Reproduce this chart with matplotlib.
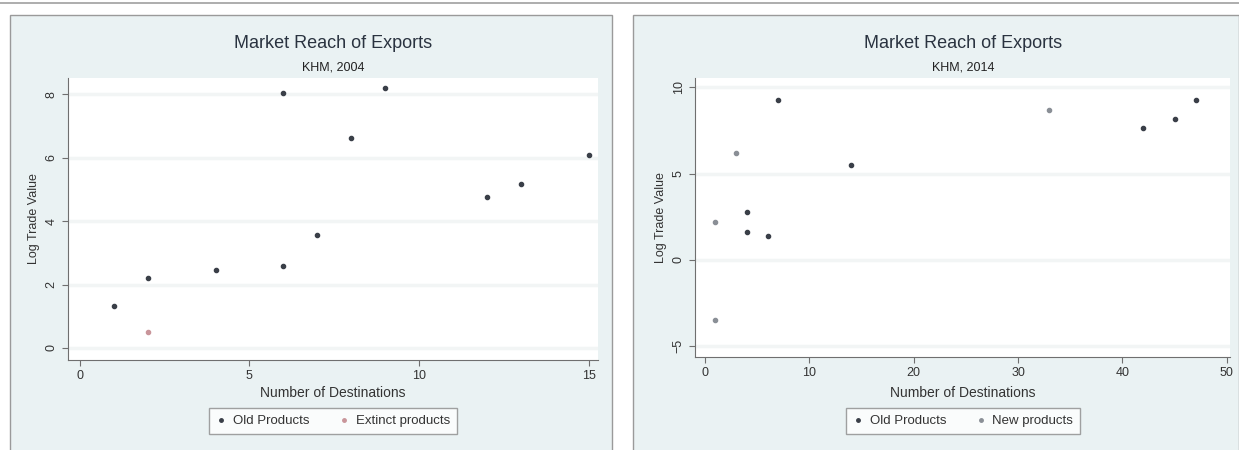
import matplotlib.pyplot as plt
from matplotlib.patches import Rectangle
from matplotlib.lines import Line2D

plt.rcParams['font.family'] = ['Liberation Sans', 'DejaVu Sans']

# 2004 panel
eski_x_2004 = [1, 2, 4, 6, 6, 7, 8, 9, 12, 13, 15]
eski_y_2004 = [1.32, 2.2, 2.46, 8.04, 2.6, 3.56, 6.62, 8.2, 4.76, 5.17, 6.09]
kayip_x_2004 = [2]
kayip_y_2004 = [0.5]

# 2014 panel
eski_x_2014 = [4, 4, 6, 7, 14, 42, 45, 47]
eski_y_2014 = [2.78, 1.62, 1.39, 9.26, 5.5, 7.64, 8.16, 9.26]
yeni_x_2014 = [1, 1, 3, 33]
yeni_y_2014 = [2.2, -3.5, 6.2, 8.7]

fig = plt.figure(figsize=(12.39, 4.5), dpi=100)
W, H = 1239.0, 450.0

def px(x0, y0, x1, y1):
    # piksel kutusunu figur koordinatina cevir
    return [x0 / W, 1 - y1 / H, (x1 - x0) / W, (y1 - y0) / H]

# ustteki gri cizgi
fig.add_artist(Line2D([0, 1], [1 - 3 / H, 1 - 3 / H], color="#a0a0a0", lw=1.2))

# panel arka planlari
for x0, x1 in [(10, 612), (633, 1239)]:
    b = px(x0, 15, x1, 452)
    fig.add_artist(Rectangle((b[0], b[1]), b[2], b[3], transform=fig.transFigure,
                             facecolor="#eaf2f3", edgecolor="#9a9a9a", lw=1.0, zorder=0))

panels = [
    dict(box=(68, 78, 598, 360), xlim=(-0.35, 15.28), ylim=(-0.38, 8.52),
         xt=[0, 5, 10, 15], yt=[0, 2, 4, 6, 8], sub="KHM, 2004", cx=333,
         a=(eski_x_2004, eski_y_2004), b=(kayip_x_2004, kayip_y_2004),
         leg=["Old Products", "Extinct products"], bcol="#c9959a"),
    dict(box=(695, 78, 1230, 357), xlim=(-0.95, 50.3), ylim=(-5.62, 10.54),
         xt=[0, 10, 20, 30, 40, 50], yt=[-5, 0, 5, 10], sub="KHM, 2014", cx=963,
         a=(eski_x_2014, eski_y_2014), b=(yeni_x_2014, yeni_y_2014),
         leg=["Old Products", "New products"], bcol="#8a8f96"),
]

for p in panels:
    ax = fig.add_axes(px(*p["box"]))
    ax.set_facecolor("white")
    ax.set_xlim(*p["xlim"])
    ax.set_ylim(*p["ylim"])
    ax.set_xticks(p["xt"])
    ax.set_yticks(p["yt"])
    ax.yaxis.grid(True, color="#f2f5f5", lw=2.5)
    ax.set_axisbelow(True)
    for s in ["top", "right"]:
        ax.spines[s].set_visible(False)
    for s in ["left", "bottom"]:
        ax.spines[s].set_color("#6f6f6f")
    ax.tick_params(colors="#6f6f6f", labelcolor="#333333", labelsize=9, length=4)
    plt.setp(ax.get_yticklabels(), rotation=90, va="center")
    ax.set_ylabel("Log Trade Value", fontsize=9, color="#333333", labelpad=4)

    ax.scatter(p["a"][0], p["a"][1], s=9, color="#3a3f48", zorder=3)
    ax.scatter(p["b"][0], p["b"][1], s=9, color=p["bcol"], zorder=3)

    cx = p["cx"] / W
    fig.text(cx, 1 - 43 / H, "Market Reach of Exports", ha="center", va="center",
             fontsize=13, color="#2a3340")
    fig.text(cx, 1 - 68 / H, p["sub"], ha="center", va="center", fontsize=9, color="#222222")
    fig.text(cx, 1 - 393 / H, "Number of Destinations", ha="center", va="center",
             fontsize=10, color="#333333")

    h1 = Line2D([], [], ls="", marker="o", ms=2.5, color="#3a3f48")
    h2 = Line2D([], [], ls="", marker="o", ms=2.5, color=p["bcol"])
    lg = fig.legend([h1, h2], p["leg"], loc="center", bbox_to_anchor=(cx, 1 - 421 / H),
                    ncol=2, fontsize=9.5, frameon=True, fancybox=False,
                    handlelength=0.8, handletextpad=0.5, columnspacing=2.2,
                    borderpad=0.5)
    lg.get_frame().set_edgecolor("#8a8a8a")
    lg.get_frame().set_facecolor("white")
    for t in lg.get_texts():
        t.set_color("#333333")

fig.savefig("out.png", dpi=100)
